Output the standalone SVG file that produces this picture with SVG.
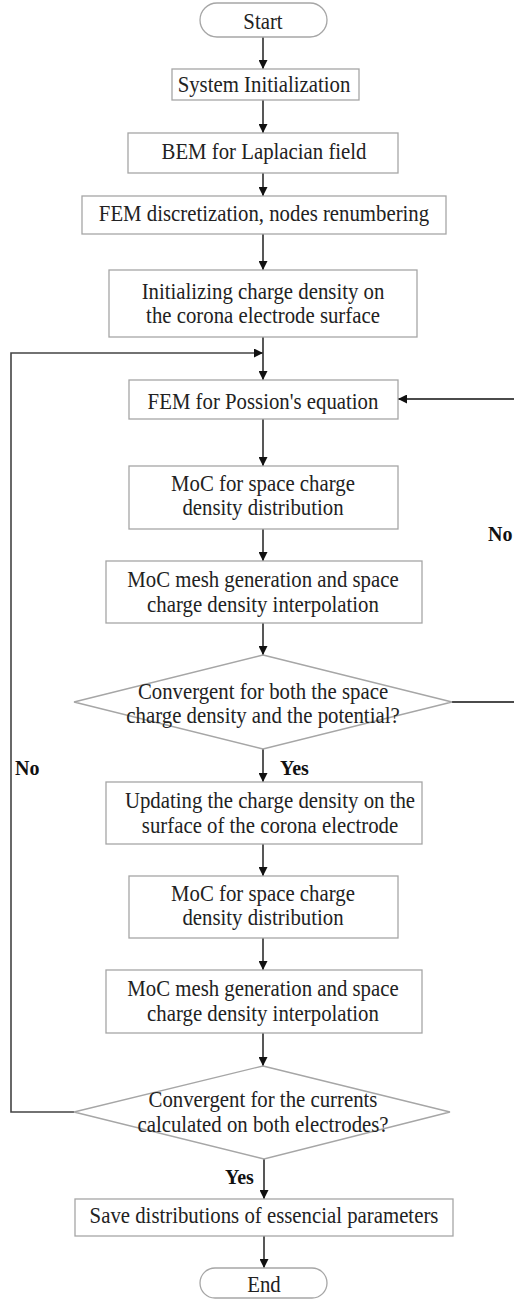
<svg xmlns="http://www.w3.org/2000/svg" width="514" height="1300" viewBox="0 0 514 1300">
<style>
.box{fill:#fff;stroke:#a6a6a6;stroke-width:1.3}
.t{font-family:"Liberation Serif","Times New Roman",serif;font-size:20.8px;fill:#222;text-anchor:middle}
.b{font-family:"Liberation Serif","Times New Roman",serif;font-size:20px;font-weight:bold;fill:#111}
.c{fill:none;stroke:#111;stroke-width:1.4}
.loop{fill:none;stroke:#444;stroke-width:1.6}
</style>
<defs>
<marker id="ah" viewBox="0 0 10 10" refX="10" refY="5" markerWidth="9" markerHeight="9" markerUnits="userSpaceOnUse" orient="auto">
<path d="M0,0 L10,5 L0,10 z" fill="#111"/>
</marker>
</defs>
<rect width="514" height="1300" fill="#fff"/>
<g id="connectors">
<path class="c" d="M263,37 V69" marker-end="url(#ah)"/>
<path class="c" d="M263,100 V133" marker-end="url(#ah)"/>
<path class="c" d="M263,173 V196" marker-end="url(#ah)"/>
<path class="c" d="M263,234 V270" marker-end="url(#ah)"/>
<path class="c" d="M263,337 V380" marker-end="url(#ah)"/>
<path class="c" d="M263,419 V466" marker-end="url(#ah)"/>
<path class="c" d="M263,529 V561" marker-end="url(#ah)"/>
<path class="c" d="M263,623 V655" marker-end="url(#ah)"/>
<path class="c" d="M263,749 V782" marker-end="url(#ah)"/>
<path class="c" d="M263,844 V876" marker-end="url(#ah)"/>
<path class="c" d="M263,938 V970" marker-end="url(#ah)"/>
<path class="c" d="M263,1033 V1066" marker-end="url(#ah)"/>
<path class="c" d="M264,1159 V1199" marker-end="url(#ah)"/>
<path class="c" d="M264,1236 V1268" marker-end="url(#ah)"/>
<path class="loop" d="M74,1112 H11 V353 H263" marker-end="url(#ah)"/>
<path class="c" d="M452,702 H518 V399 H398" marker-end="url(#ah)"/>
<text class="b" x="15" y="775">No</text>
<text class="b" x="280" y="775">Yes</text>
<text class="b" x="225" y="1184">Yes</text>
<text class="b" x="488" y="541">No</text>
</g>
<g id="start">
<rect class="box" x="200" y="3" width="127" height="34" rx="17"/>
<g transform="translate(263,29) scale(1,1.12)"><text class="t">Start</text></g>
</g>
<g id="sysinit">
<rect class="box" x="172" y="69" width="187" height="31"/>
<g transform="translate(264,92) scale(1,1.12)"><text class="t">System Initialization</text></g>
</g>
<g id="bem">
<rect class="box" x="128" y="133" width="270" height="40"/>
<g transform="translate(264,159) scale(1,1.12)"><text class="t">BEM for Laplacian field</text></g>
</g>
<g id="femdisc">
<rect class="box" x="82" y="196" width="364" height="38"/>
<g transform="translate(264,221) scale(1,1.12)"><text class="t">FEM discretization, nodes renumbering</text></g>
</g>
<g id="initcharge">
<rect class="box" x="109" y="270" width="308" height="67"/>
<g transform="translate(263,299) scale(1,1.12)"><text class="t">Initializing charge density on</text></g>
<g transform="translate(263,323) scale(1,1.12)"><text class="t">the corona electrode surface</text></g>
</g>
<g id="fempoisson">
<rect class="box" x="129" y="380" width="269" height="39"/>
<g transform="translate(263,409) scale(1,1.12)"><text class="t">FEM for Possion's equation</text></g>
</g>
<g id="moc1">
<rect class="box" x="129" y="466" width="269" height="63"/>
<g transform="translate(263,491) scale(1,1.12)"><text class="t">MoC for space charge</text></g>
<g transform="translate(263,515) scale(1,1.12)"><text class="t">density distribution</text></g>
</g>
<g id="mesh1">
<rect class="box" x="106" y="561" width="316" height="62"/>
<g transform="translate(263,587) scale(1,1.12)"><text class="t">MoC mesh generation and space</text></g>
<g transform="translate(263,612) scale(1,1.12)"><text class="t">charge density interpolation</text></g>
</g>
<g id="conv1">
<polygon class="box" points="263,655 452,702 263,749 74,702"/>
<g transform="translate(263,699) scale(1,1.12)"><text class="t">Convergent for both the space</text></g>
<g transform="translate(263,723) scale(1,1.12)"><text class="t">charge density and the potential?</text></g>
</g>
<g id="update">
<rect class="box" x="106" y="782" width="316" height="62"/>
<g transform="translate(270,808) scale(1,1.12)"><text class="t">Updating the charge density on the</text></g>
<g transform="translate(270,833) scale(1,1.12)"><text class="t">surface of the corona electrode</text></g>
</g>
<g id="moc2">
<rect class="box" x="129" y="876" width="269" height="62"/>
<g transform="translate(263,901) scale(1,1.12)"><text class="t">MoC for space charge</text></g>
<g transform="translate(263,925) scale(1,1.12)"><text class="t">density distribution</text></g>
</g>
<g id="mesh2">
<rect class="box" x="106" y="970" width="316" height="63"/>
<g transform="translate(263,996) scale(1,1.12)"><text class="t">MoC mesh generation and space</text></g>
<g transform="translate(263,1021) scale(1,1.12)"><text class="t">charge density interpolation</text></g>
</g>
<g id="conv2">
<polygon class="box" points="263,1066 450,1112 264,1159 74,1112"/>
<g transform="translate(263,1107) scale(1,1.12)"><text class="t">Convergent for the currents</text></g>
<g transform="translate(263,1132) scale(1,1.12)"><text class="t">calculated on both electrodes?</text></g>
</g>
<g id="save">
<rect class="box" x="75" y="1199" width="378" height="37"/>
<g transform="translate(264,1223) scale(1,1.12)"><text class="t">Save distributions of essencial parameters</text></g>
</g>
<g id="end">
<rect class="box" x="200" y="1268" width="127" height="30" rx="15"/>
<g transform="translate(264,1292) scale(1,1.12)"><text class="t">End</text></g>
</g>
</svg>
